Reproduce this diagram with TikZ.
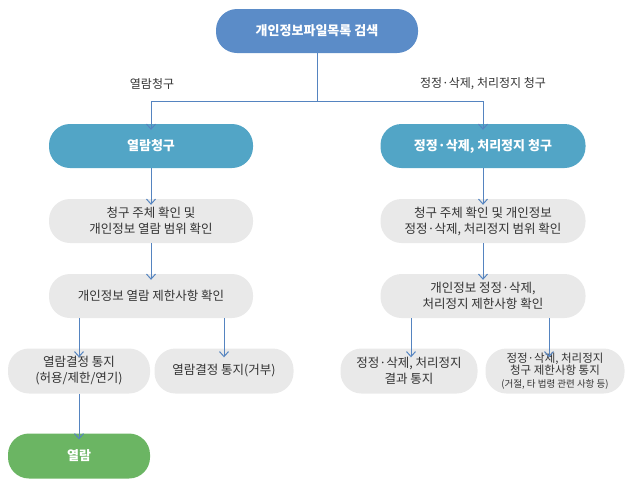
\documentclass[tikz,border=0pt]{standalone}
\usepackage{fontspec}
\setmainfont{Noto Sans CJK KR}
\usetikzlibrary{arrows.meta}
\definecolor{cblue}{HTML}{5B8CC8}
\definecolor{cteal}{HTML}{52A5C6}
\definecolor{cgray}{HTML}{E9E9E9}
\definecolor{cgreen}{HTML}{6BB563}
\definecolor{ctext}{HTML}{333333}
\definecolor{carrow}{HTML}{5584C0}
\begin{document}
\begin{tikzpicture}[x=1pt,y=-1pt,
 box/.style={rounded corners=21pt,align=center,font=\fontsize{12.5}{16}\selectfont,inner sep=0pt},
 hbox/.style={box,text=white,font=\fontsize{13}{16}\selectfont\bfseries},
 gbox/.style={box,fill=cgray,text=ctext},
 arr/.style={draw=carrow,-{Straight Barb[width=9pt,length=5pt]},line width=1pt},
 lbl/.style={font=\fontsize{12}{14}\selectfont,text=ctext}]
\useasboundingbox (0,0) rectangle (634,488);
\node[hbox,fill=cblue,minimum width=202pt,minimum height=44pt] (top) at (317,31) {개인정보파일목록 검색};
\node[hbox,fill=cteal,minimum width=204pt,minimum height=44pt] (L1) at (151,146) {열람청구};
\node[hbox,fill=cteal,minimum width=205pt,minimum height=44pt] (R1) at (483,146) {정정·삭제, 처리정지 청구};
\node[gbox,minimum width=204pt,minimum height=44pt] (L2) at (151,221) {청구 주체 확인 및\\개인정보 열람 범위 확인};
\node[gbox,minimum width=205pt,minimum height=44pt] (R2) at (483,221) {청구 주체 확인 및 개인정보\\정정·삭제, 처리정지 범위 확인};
\node[gbox,minimum width=204pt,minimum height=44pt] (L3) at (151,296) {개인정보 열람 제한사항 확인};
\node[gbox,minimum width=205pt,minimum height=44pt] (R3) at (483,296) {개인정보 정정·삭제,\\처리정지 제한사항 확인};
\node[gbox,minimum width=142pt,minimum height=45pt] (B1) at (79,371) {열람결정 통지\\(허용/제한/연기)};
\node[gbox,minimum width=139pt,minimum height=45pt] (B2) at (224,371) {열람결정 통지(거부)};
\node[gbox,minimum width=137pt,minimum height=45pt] (B3) at (409,371) {정정·삭제, 처리정지\\결과 통지};
\node[gbox,minimum width=139pt,minimum height=45pt,font=\fontsize{11.5}{12.5}\selectfont] (B4) at (555,371) {정정·삭제, 처리정지\\청구 제한사항 통지\\{\fontsize{9.5}{11}\selectfont(거절, 타 법령 관련 사항 등)}};
\node[hbox,fill=cgreen,minimum width=142pt,minimum height=45pt] (G) at (79,456) {열람};
\node[lbl] (la) at (152,84) {열람청구};
\node[lbl] (lb) at (483,84) {정정·삭제, 처리정지 청구};
\coordinate (j) at (317,101);
\draw[arr] (top.south) -- (j) -| ([yshift=-6pt]L1.north);
\draw[arr] (j) -| ([yshift=-6pt]R1.north);
\draw[arr] (L1.south) -- ([yshift=-6pt]L2.north);
\draw[arr] (R1.south) -- ([yshift=-6pt]R2.north);
\draw[arr] (L2.south) -- ([yshift=-6pt]L3.north);
\draw[arr] (R2.south) -- ([yshift=-6pt]R3.north);
\draw[arr] (L3.south -| B1.north) -- ([yshift=-9pt]B1.north);
\draw[arr] (L3.south -| B2.north) -- ([yshift=-9pt]B2.north);
\draw[arr] (R3.south -| 411,0) -- ([yshift=-9pt]B3.north -| 411,0);
\draw[arr] (R3.south -| 549,0) -- ([yshift=-9pt]B4.north -| 549,0);
\draw[arr] (B1.south) -- ([yshift=-6pt]G.north);
\end{tikzpicture}
\end{document}
